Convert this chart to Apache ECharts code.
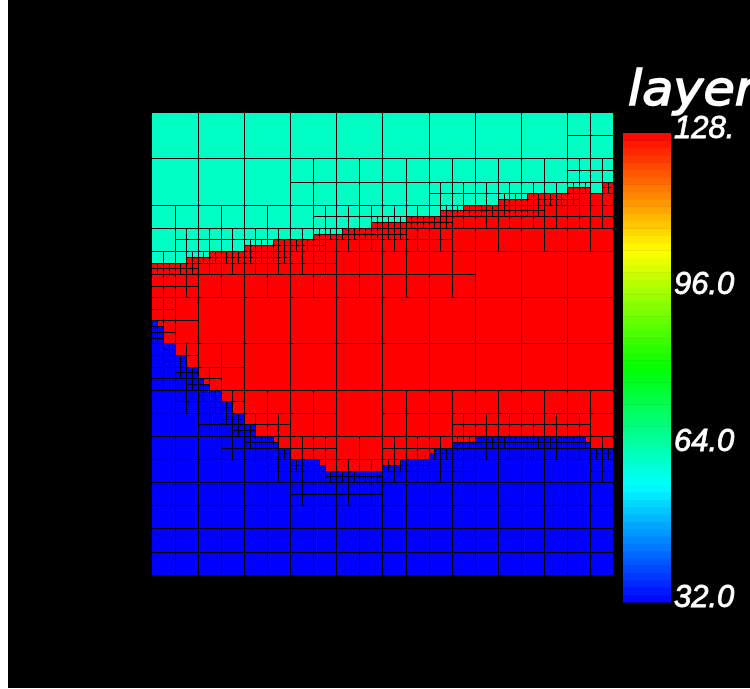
<!DOCTYPE html>
<html><head><meta charset="utf-8">
<style>html,body{margin:0;padding:0;background:#fff;overflow:hidden}#c{position:absolute;left:8px;top:0;width:742px;height:688px}</style>
<script src="https://cdn.jsdelivr.net/npm/echarts@6/dist/echarts.min.js"></script>
</head><body><div id="c"></div>
<script>
const titleText = 'layer';
const tickLabels = {128:'128.',96:'96.0',64:'64.0',32:'32.0'};
// fine-column index -> first fine row of the red layer (top interface)
const redStart = [26,26,26,26,26,26,25,25,25,25,24,24,24,24,24,24,23,23,23,23,23,22,22,22,22,22,22,22,21,21,21,21,21,20,20,20,20,20,19,19,19,19,19,19,18,18,18,18,18,18,17,17,17,17,16,16,16,16,16,16,15,15,15,15,15,14,14,14,14,14,14,14,13,13,13,13,13,12,12,12];
// fine-column index -> first fine row of the blue layer (bottom interface)
const blueStart = [36,37,40,40,42,42,44,44,46,47,48,48,50,50,52,52,54,54,56,56,56,57,58,58,60,60,60,60,60,61,62,62,62,62,62,62,62,62,62,62,61,61,61,60,60,60,60,60,59,58,58,58,57,57,57,57,56,56,56,56,56,56,56,56,56,56,56,56,56,56,56,56,56,56,56,57,58,58,58,58];
const layerTop = 64, layerMid = 128, layerLow = 32;
const layerColors = {64:'#00ffc4',128:'#ff0000',32:'#0000ff'};
// mesh refinement: row -> columns
const split8 = {0:[9],1:[3,4,5,6,7,8,9],2:[0,1,2,3,4,5,6,7,8,9],3:[0,1,2,3,4,5,6],4:[0],5:[0,1],6:[0,1,2,3,5,6,7,8,9],7:[0,1,2,3,4,5,6,7,8,9],8:[0,1,2,3,4,5,6,7,8,9],9:[0,1,2,3,4,5,6,7,8,9]};
const split4 = {8:[72,76],12:[48,52,56,60,64,68,72,76],16:[28,32,36,40,44,48,52,56,60,64,68,72,76],20:[4,8,12,16,20,24,28,32,36,40,44,48],24:[0,4,8,12,16,20,24,28],28:[0,4],32:[0],36:[0],40:[0,4],44:[0,4,8],48:[4,8,12],52:[8,12,16,20,52,56,60,64,68,72],56:[12,16,20,24,28,40,44,48,52,56,60,64,68,72,76],60:[20,24,28,32,36,40,44,48,52,76],64:[24,28,32,36]};
const split2 = {12:[72,74,78],14:[60,62,64,66,68,70,72],16:[50,52,54,56,58,60,62,64,66],18:[38,40,42,44,46,48,50],20:[28,30,32,34,36,38,40,42],22:[16,18,20,22,24,26,28],24:[6,8,10,12,14,16,18,20,22],26:[0,2,4,6],36:[0],38:[0],40:[2],42:[2,4],44:[4,6],46:[6,8],48:[8,10],50:[10,12],52:[12,14],54:[14,16],56:[16,18,20,52,54,56,58,60,62,64,66,68,70,72,74],58:[22,48,50,52,76,78],60:[24,26,28,40,42,44,46],62:[30,32,34,36,38]};
const rampLevels = ['08','18','28','38','48','58','68','78','87','97','a7','b7','c7','d7','e7','f7'];
const barMin = 32, barMax = 128, barStep = 32, bandWidth = 1.5;

function has(tbl,r,c){return (tbl[r]||[]).indexOf(c)>=0;}
function layerAt(c,r){return r>=blueStart[Math.floor(c)]?layerLow:(r>=redStart[Math.floor(c)]?layerMid:layerTop);}
const cells=[];
function leaf(c,r,s){cells.push([c,r,s,layerAt(c+s/2-0.01,r+s/2-0.01)]);}
for(let R=0;R<10;R++)for(let C=0;C<10;C++){
  const c8=C*8,r8=R*8;
  if(!has(split8,R,C)){leaf(c8,r8,8);continue;}
  for(const r4 of [r8,r8+4])for(const c4 of [c8,c8+4]){
    if(!has(split4,r4,c4)){leaf(c4,r4,4);continue;}
    for(const r2 of [r4,r4+2])for(const c2 of [c4,c4+2]){
      if(!has(split2,r2,c2)){leaf(c2,r2,2);continue;}
      for(const r1 of [r2,r2+1])for(const c1 of [c2,c2+1])leaf(c1,r1,1);
    }
  }
}
// colorbar bands bottom to top: blue>cyan>green>yellow>red
const bandColors=[];
rampLevels.forEach(h=>bandColors.push('#00'+h+'ff'));
rampLevels.forEach(h=>bandColors.push('#00ff'+rampLevels[15-rampLevels.indexOf(h)]));
rampLevels.forEach(h=>bandColors.push('#'+h+'ff00'));
rampLevels.forEach(h=>bandColors.push('#ff'+rampLevels[15-rampLevels.indexOf(h)]+'00'));
const bands=bandColors.map((col,i)=>[barMin+i*bandWidth,barMin+(i+1)*bandWidth,col]);

const crisp=v=>Math.floor(v)+0.5;
const chart=echarts.init(document.getElementById('c'));
chart.setOption({
  animation:false,
  backgroundColor:'#000',
  graphic:[{type:'text',x:620,y:69,scaleX:1.06,silent:true,
    style:{text:titleText,fill:'#fff',stroke:'#fff',lineWidth:1.5,font:'italic 48px "DejaVu Sans"'}}],
  grid:[{left:143.9,top:112.7,width:462,height:462.5},{left:615,top:133,width:48,height:469}],
  xAxis:[{type:'value',min:0,max:80,show:false,gridIndex:0},{type:'value',min:0,max:1,show:false,gridIndex:1}],
  yAxis:[{type:'value',min:0,max:80,inverse:true,show:false,gridIndex:0},
    {type:'value',min:barMin,max:barMax,interval:barStep,gridIndex:1,position:'right',
     axisLine:{show:false},axisTick:{show:false},splitLine:{show:false},
     axisLabel:{margin:3,color:'#fff',fontFamily:'Liberation Sans',fontStyle:'italic',fontSize:31,
       verticalAlign:'bottom',lineHeight:7,
       textBorderColor:'#fff',textBorderWidth:0.8,
       formatter:v=>tickLabels[v]}}],
  series:[
    {type:'custom',xAxisIndex:0,yAxisIndex:0,silent:true,data:cells,clip:false,
     renderItem(params,api){
       const c=api.value(0),r=api.value(1),s=api.value(2);
       const a=api.coord([c,r]),b=api.coord([c+s,r+s]);
       const x0=crisp(a[0]),y0=crisp(a[1]),x1=crisp(b[0]),y1=crisp(b[1]);
       return {type:'rect',shape:{x:x0,y:y0,width:x1-x0,height:y1-y0},
         style:{fill:layerColors[api.value(3)],stroke:'#000',lineWidth:1}};
     }},
    {type:'custom',xAxisIndex:1,yAxisIndex:1,silent:true,data:bands,
     encode:{y:[0,1]},
     renderItem(params,api){
       const a=api.coord([0,api.value(1)]),b=api.coord([1,api.value(0)]);
       return {type:'rect',shape:{x:a[0],y:a[1],width:b[0]-a[0],height:b[1]-a[1]+0.5},
         style:{fill:bands[params.dataIndex][2]}};
     }}
  ]
});
</script></body></html>
